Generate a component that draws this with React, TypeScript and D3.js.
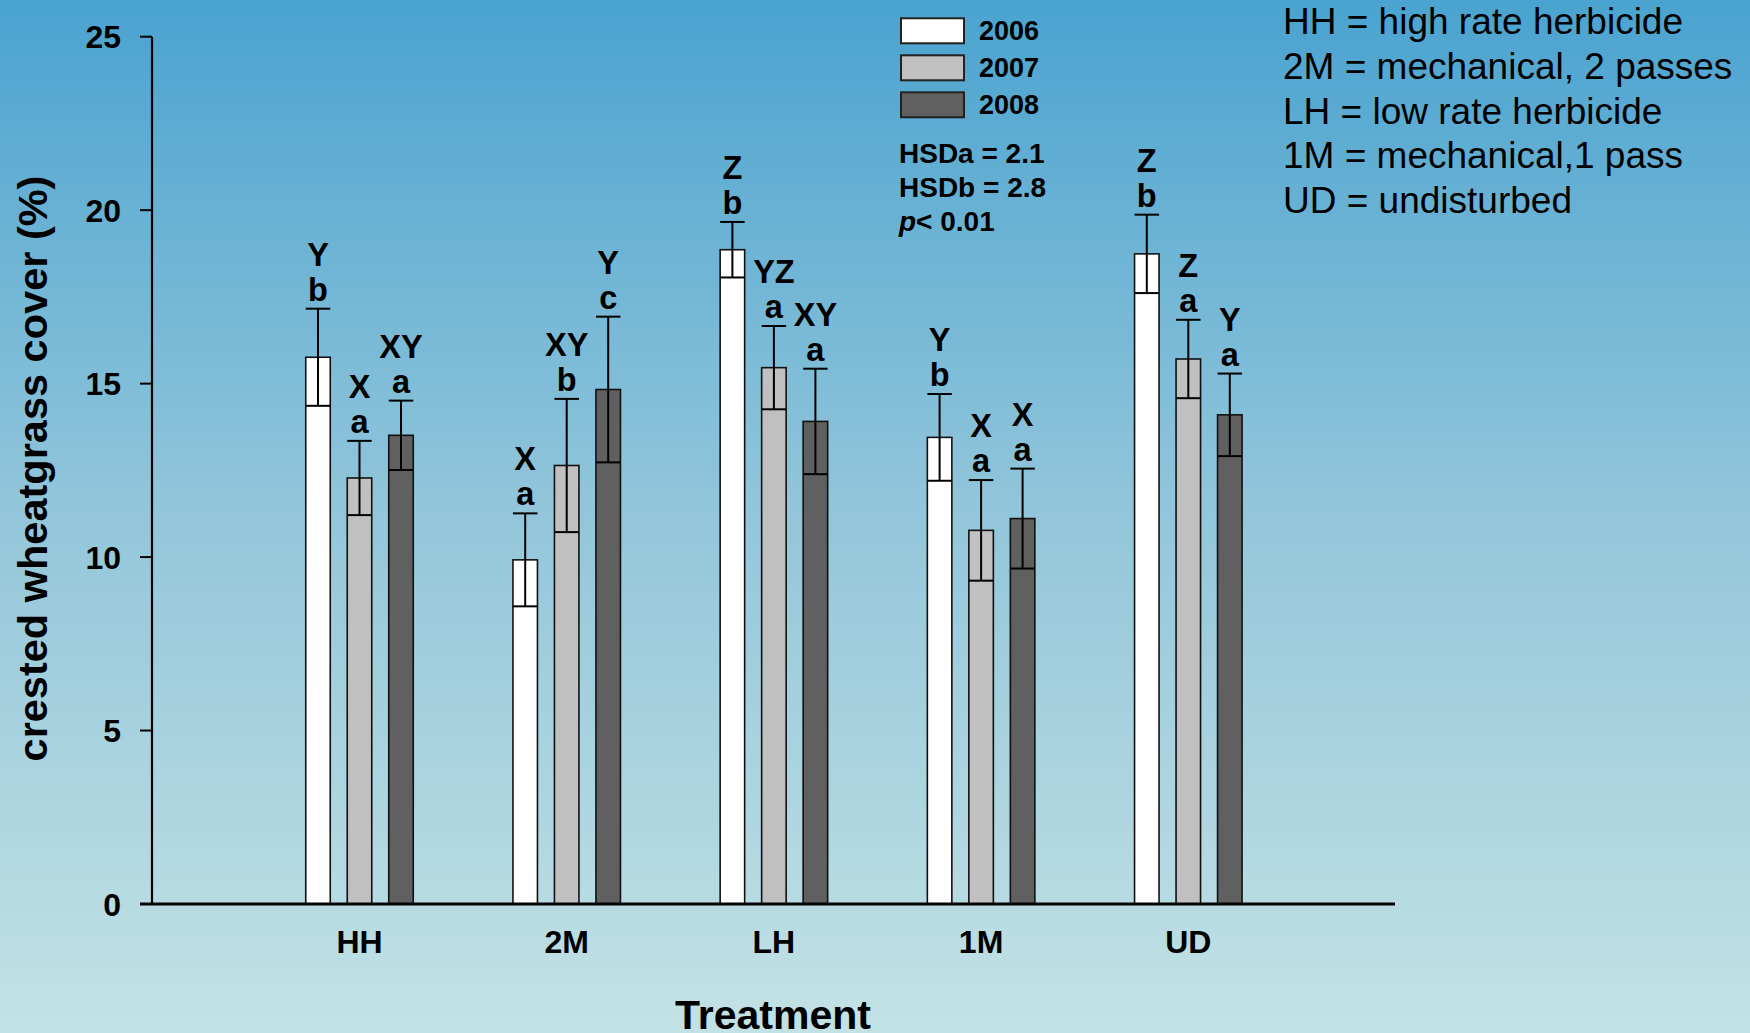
import React from "react";
import * as d3 from "d3";

const categories = ["HH", "2M", "LH", "1M", "UD"];
const years = ["2006", "2007", "2008"];
const mean2006 = [15.76, 9.92, 18.86, 13.45, 18.74];
const mean2007 = [12.28, 12.64, 15.46, 10.77, 15.71];
const mean2008 = [13.51, 14.83, 13.91, 11.11, 14.1];
const se2006 = [1.4, 1.34, 0.8, 1.25, 1.13];
const se2007 = [1.07, 1.92, 1.2, 1.45, 1.13];
const se2008 = [1.0, 2.1, 1.52, 1.44, 1.19];
const upper2006 = ["Y", "X", "Z", "Y", "Z"];
const upper2007 = ["X", "XY", "YZ", "X", "Z"];
const upper2008 = ["XY", "Y", "XY", "X", "Y"];
const lower2006 = ["b", "a", "b", "b", "b"];
const lower2007 = ["a", "b", "a", "a", "a"];
const lower2008 = ["a", "c", "a", "a", "a"];
const yTicks = [0, 5, 10, 15, 20, 25];
const definitions = [
  "HH = high rate herbicide",
  "2M = mechanical, 2 passes",
  "LH = low rate herbicide",
  "1M = mechanical,1 pass",
  "UD = undisturbed",
];
const statLines = ["HSDa = 2.1", "HSDb = 2.8"];
const yTitle = "crested wheatgrass cover (%)";
const xTitle = "Treatment";

const fills = ["#ffffff", "#c0c0c0", "#606060"];
const FONT = "'Liberation Sans', Arial, Helvetica, sans-serif";

export default function App() {
  const W = 1750;
  const H = 1033;
  const y = d3.scaleLinear().domain([0, 25]).range([904, 36.7]);
  const x = d3.scalePoint<string>().domain(categories).range([359.5, 1188.3]);
  const sub = d3.scalePoint<string>().domain(years).range([-41.5, 41.5]);
  const bw = 24.5;
  const axisX0 = 152;
  const axisX1 = 1395;

  const means = [mean2006, mean2007, mean2008];
  const ses = [se2006, se2007, se2008];
  const uppers = [upper2006, upper2007, upper2008];
  const lowers = [lower2006, lower2007, lower2008];

  const bars: any[] = [];
  categories.forEach((c, i) => {
    years.forEach((yr, j) => {
      const cx = (x(c) as number) + (sub(yr) as number);
      const m = means[j][i];
      const s = ses[j][i];
      const yTop = y(m);
      const yHi = y(m + s);
      const yLo = y(m - s);
      const lowBase = yHi - 8;
      bars.push(
        <g key={c + yr}>
          <rect
            x={cx - bw / 2}
            y={yTop}
            width={bw}
            height={y(0) - yTop}
            fill={fills[j]}
            stroke="#111"
            strokeWidth={1.6}
          />
          <line x1={cx} x2={cx} y1={yHi} y2={yLo} stroke="#000" strokeWidth={2} />
          <line x1={cx - bw / 2} x2={cx + bw / 2} y1={yHi} y2={yHi} stroke="#000" strokeWidth={2} />
          <line x1={cx - bw / 2} x2={cx + bw / 2} y1={yLo} y2={yLo} stroke="#000" strokeWidth={2} />
          <text x={cx} y={lowBase} textAnchor="middle" fontSize={32.5} fontWeight="bold">
            {lowers[j][i]}
          </text>
          <text x={cx} y={lowBase - 35} textAnchor="middle" fontSize={32.5} fontWeight="bold">
            {uppers[j][i]}
          </text>
        </g>
      );
    });
  });

  return (
    <svg
      width={W}
      height={H}
      style={{ position: "absolute", left: 0, top: 0, display: "block" }}
      fontFamily={FONT}
    >
      <defs>
        <linearGradient id="bg" x1="0" y1="0" x2="0" y2="1">
          <stop offset="0" stopColor="#4aa3d0" />
          <stop offset="0.5" stopColor="#93c6da" />
          <stop offset="1" stopColor="#c3e2e5" />
        </linearGradient>
      </defs>
      <rect x={0} y={0} width={W} height={H} fill="url(#bg)" />

      {bars}

      <line x1={axisX0} x2={axisX0} y1={y(25)} y2={y(0)} stroke="#000" strokeWidth={2.2} />
      <line x1={axisX0 - 12} x2={axisX1} y1={y(0)} y2={y(0)} stroke="#000" strokeWidth={2.8} />
      {yTicks.map((t) => (
        <g key={t}>
          <line x1={axisX0 - 12} x2={axisX0} y1={y(t)} y2={y(t)} stroke="#000" strokeWidth={2} />
          <text x={121} y={y(t) + 11.5} textAnchor="end" fontSize={32} fontWeight="bold">
            {t}
          </text>
        </g>
      ))}
      {categories.map((c) => (
        <text key={c} x={x(c)} y={953} textAnchor="middle" fontSize={32} fontWeight="bold">
          {c}
        </text>
      ))}
      <text x={773} y={1029} textAnchor="middle" fontSize={41} fontWeight="bold">
        {xTitle}
      </text>
      <text
        transform={`translate(47, ${(175 + 762) / 2}) rotate(-90)`}
        textAnchor="middle"
        fontSize={41.5}
        fontWeight="bold"
      >
        {yTitle}
      </text>

      {years.map((yr, j) => (
        <g key={yr}>
          <rect x={901} y={18.3 + j * 37} width={63} height={25} fill={fills[j]} stroke="#222" strokeWidth={2} />
          <text x={979} y={40 + j * 37} fontSize={27} fontWeight="bold">
            {yr}
          </text>
        </g>
      ))}
      {statLines.map((s, k) => (
        <text key={s} x={899} y={162.7 + k * 34} fontSize={28} fontWeight="bold">
          {s}
        </text>
      ))}
      <text x={899} y={230.7} fontSize={28} fontWeight="bold">
        <tspan fontStyle="italic">p</tspan>
        <tspan>{"< 0.01"}</tspan>
      </text>

      {definitions.map((d, k) => (
        <text key={d} x={1283} y={34 + k * 44.8} fontSize={37}>
          {d}
        </text>
      ))}
    </svg>
  );
}
